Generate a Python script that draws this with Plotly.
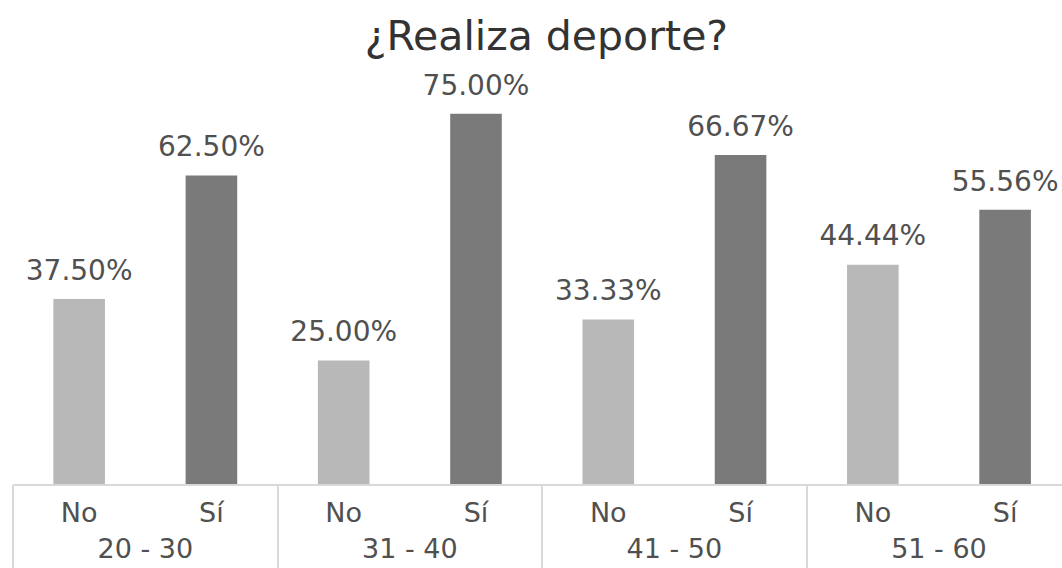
import plotly.graph_objects as go

# Survey results: share of respondents who practise sport, by age group
age_groups = ["20 - 30", "31 - 40", "41 - 50", "51 - 60"]
answers = ["No", "Sí"]
pct_no = [37.50, 25.00, 33.33, 44.44]
pct_yes = [62.50, 75.00, 66.67, 55.56]

FONT = "DejaVu Sans"
LABEL_COLOR = "#505050"
COLOR_NO = "#b8b8b8"
COLOR_YES = "#7a7a7a"
LINE_COLOR = "#d9d9d9"

# each age group takes two slots on the x axis: "No" then "Sí"
n_groups = len(age_groups)
slots_per_group = len(answers)
x_no = [g * slots_per_group for g in range(n_groups)]
x_yes = [g * slots_per_group + 1 for g in range(n_groups)]
group_centres = [g * slots_per_group + 0.5 for g in range(n_groups)]
x_range = [-0.5, n_groups * slots_per_group - 0.57]

fig = go.Figure()

for name, xs, values, color in [
    (answers[0], x_no, pct_no, COLOR_NO),
    (answers[1], x_yes, pct_yes, COLOR_YES),
]:
    fig.add_trace(
        go.Bar(
            x=xs,
            y=values,
            name=name,
            width=0.39,
            marker=dict(color=color, line=dict(width=0)),
            showlegend=False,
        )
    )
    # value labels sitting a little above each bar
    fig.add_trace(
        go.Scatter(
            x=xs,
            y=values,
            mode="markers+text",
            marker=dict(size=18, opacity=0),
            text=[f"{v:.2f}%" for v in values],
            textposition="top center",
            textfont=dict(family=FONT, size=28, color=LABEL_COLOR),
            cliponaxis=False,
            hoverinfo="skip",
            showlegend=False,
        )
    )

# invisible anchors so the group-label and separator axes get drawn
for axis_name in ["x2", "x3"]:
    fig.add_trace(
        go.Scatter(
            x=group_centres,
            y=[0] * n_groups,
            xaxis=axis_name,
            yaxis="y",
            mode="markers",
            marker=dict(size=1, opacity=0),
            hoverinfo="skip",
            showlegend=False,
        )
    )

tick_font = dict(family=FONT, size=27, color=LABEL_COLOR)

fig.update_layout(
    width=1062,
    height=568,
    margin=dict(l=13, r=0, t=100, b=84, autoexpand=False),
    paper_bgcolor="white",
    plot_bgcolor="white",
    barmode="overlay",
    title=dict(
        text="¿Realiza deporte?",
        font=dict(family=FONT, size=41, color="#333333"),
        x=540 / 1062,
        xanchor="center",
        xref="paper",
        y=1 - 36 / 568,
        yanchor="middle",
        yref="container",
    ),
    # answer labels (No / Sí) under each bar
    xaxis=dict(
        range=x_range,
        tickmode="array",
        tickvals=x_no + x_yes,
        ticktext=[answers[0]] * n_groups + [answers[1]] * n_groups,
        showline=True,
        linecolor=LINE_COLOR,
        linewidth=2,
        ticks="",
        ticklabelstandoff=4,
        showgrid=False,
        zeroline=False,
        automargin=False,
        tickfont=tick_font,
    ),
    # age-group labels on a second row
    xaxis2=dict(
        overlaying="x",
        anchor="y",
        side="bottom",
        range=x_range,
        tickmode="array",
        tickvals=group_centres,
        ticktext=age_groups,
        ticks="",
        ticklabelstandoff=46,
        showgrid=False,
        zeroline=False,
        showline=False,
        automargin=False,
        tickfont=tick_font,
    ),
    # separators between age groups
    xaxis3=dict(
        overlaying="x",
        anchor="y",
        side="bottom",
        range=x_range,
        tickmode="linear",
        tick0=-0.5,
        dtick=slots_per_group,
        ticks="outside",
        ticklen=84,
        tickwidth=2,
        tickcolor=LINE_COLOR,
        showticklabels=False,
        showgrid=False,
        zeroline=False,
        showline=False,
        automargin=False,
    ),
    yaxis=dict(
        visible=False,
        range=[0, 77.8],
        showgrid=False,
        zeroline=False,
    ),
)

fig.write_html("out.html")
